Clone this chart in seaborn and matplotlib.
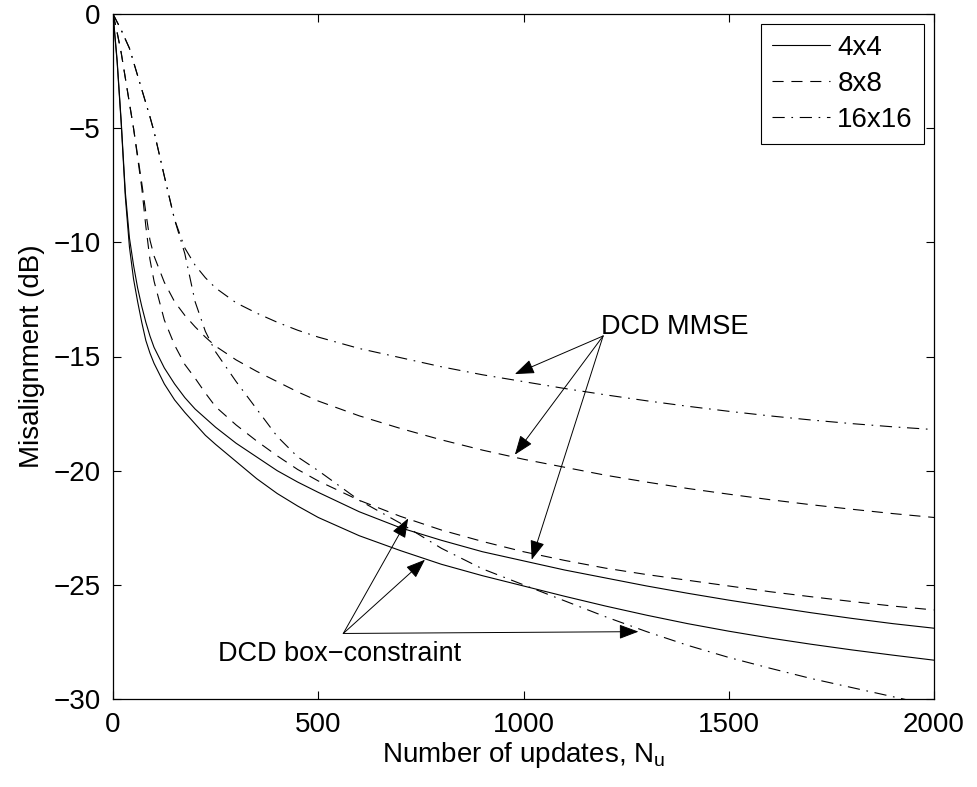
import matplotlib
matplotlib.use("Agg")
import matplotlib.pyplot as plt
import seaborn as sns
import pandas as pd

# ---------------- data ----------------
updates = [0, 10, 20, 30, 40, 50, 60, 70, 80, 90, 100, 125, 150, 175, 200, 225, 250,
           300, 350, 400, 450, 500, 600, 700, 800, 900, 1000, 1100, 1200, 1300, 1400,
           1500, 1600, 1700, 1800, 1900, 2000]

mmse_4x4 = [0, -2.0, -4.7, -7.8, -9.8, -11.0, -12.0, -12.8, -13.5, -14.1, -14.6, -15.5,
            -16.2, -16.8, -17.3, -17.7, -18.1, -18.8, -19.4, -20.0, -20.5, -20.95, -21.8,
            -22.5, -23.05, -23.55, -23.95, -24.35, -24.7, -25.05, -25.37, -25.67, -25.95,
            -26.22, -26.47, -26.7, -26.9]
box_4x4 = [0, -2.1, -4.8, -8.0, -10.2, -11.6, -12.6, -13.5, -14.3, -14.85, -15.3, -16.2,
           -16.9, -17.45, -17.95, -18.45, -18.85, -19.6, -20.35, -21.0, -21.55, -22.05,
           -22.85, -23.5, -24.1, -24.6, -25.05, -25.5, -25.93, -26.33, -26.7, -27.03,
           -27.33, -27.6, -27.85, -28.08, -28.3]
mmse_8x8 = [0, -0.8, -1.7, -2.8, -3.9, -5.0, -6.2, -7.4, -8.7, -9.9, -10.6, -11.75, -12.6,
            -13.2, -13.7, -14.15, -14.55, -15.15, -15.65, -16.1, -16.55, -16.95, -17.6,
            -18.15, -18.65, -19.1, -19.5, -19.85, -20.2, -20.5, -20.78, -21.03, -21.27,
            -21.49, -21.69, -21.88, -22.05]
box_8x8 = [0, -0.8, -1.7, -2.8, -3.9, -5.0, -6.3, -7.6, -9.3, -10.75, -11.7, -13.4, -14.5,
           -15.35, -15.95, -16.6, -17.2, -18.0, -18.7, -19.35, -19.95, -20.45, -21.3,
           -22.0, -22.6, -23.1, -23.55, -23.93, -24.27, -24.55, -24.8, -25.05, -25.3,
           -25.52, -25.73, -25.93, -26.1]
mmse_16x16 = [0, -0.35, -0.7, -1.1, -1.5, -2.1, -2.7, -3.3, -3.9, -4.5, -5.15, -7.1, -9.0,
              -10.25, -11.0, -11.55, -12.0, -12.65, -13.1, -13.5, -13.85, -14.15, -14.65,
              -15.05, -15.45, -15.8, -16.1, -16.4, -16.68, -16.94, -17.18, -17.4, -17.6,
              -17.78, -17.94, -18.08, -18.2]
box_16x16 = [0, -0.35, -0.7, -1.1, -1.5, -2.1, -2.7, -3.3, -3.9, -4.5, -5.15, -7.1, -9.0,
             -10.5, -12.6, -13.9, -14.8, -16.1, -17.3, -18.5, -19.4, -20.0, -21.3, -22.3,
             -23.4, -24.3, -25.0, -25.7, -26.4, -27.05, -27.65, -28.18, -28.65, -29.1,
             -29.5, -29.9, -30.3]

sizes = ["4x4", "8x8", "16x16"]
x_ticks = [0, 500, 1000, 1500, 2000]
y_ticks = [-30, -25, -20, -15, -10, -5, 0]

# ---------------- style ----------------
sns.set_style("ticks", rc={
    "axes.edgecolor": "k", "xtick.color": "k", "ytick.color": "k",
    "text.color": "k", "axes.labelcolor": "k",
    "xtick.direction": "in", "ytick.direction": "in",
})
plt.rcParams["font.family"] = ["Liberation Sans", "DejaVu Sans"]
plt.rcParams["mathtext.fontset"] = "custom"
plt.rcParams["mathtext.rm"] = "Liberation Sans"
plt.rcParams["mathtext.default"] = "regular"

FS = 20
LW = 0.8
styles = {
    "4x4": "-",
    "8x8": (0, (10, 7)),
    "16x16": (0, (11, 6, 1.5, 6)),
}

fig = plt.figure(figsize=(9.78, 7.87), dpi=100)
ax = fig.add_axes([113 / 978, 1 - 699 / 787, (934 - 113) / 978, (699 - 14) / 787])

series = [
    ("4x4", mmse_4x4, box_4x4),
    ("8x8", mmse_8x8, box_8x8),
    ("16x16", mmse_16x16, box_16x16),
]
for name, mm, bx in series:
    df = pd.DataFrame({"updates": updates, "mmse": mm, "box": bx})
    sns.lineplot(data=df, x="updates", y="mmse", ax=ax, color="k", lw=LW,
                 linestyle=styles[name], label=name)
    sns.lineplot(data=df, x="updates", y="box", ax=ax, color="k", lw=LW,
                 linestyle=styles[name], label="_nolegend_")

ax.set_xlim(0, 2000)
ax.set_ylim(-30, 0)
ax.set_xticks(x_ticks)
ax.set_yticks(y_ticks)
ax.tick_params(direction="in", top=True, right=True, length=6, width=0.8,
               labelsize=FS, pad=9)
for s in ax.spines.values():
    s.set_linewidth(0.9)
    s.set_color("k")

ax.set_xlabel("Number of updates, N$_\\mathregular{u}$", fontsize=FS, labelpad=2)
ax.set_ylabel("Misalignment (dB)", fontsize=FS, labelpad=6)

leg = ax.legend(loc="upper right", fontsize=FS, frameon=True, fancybox=False,
                edgecolor="k", framealpha=1, handlelength=2.1, handletextpad=0.25,
                labelspacing=0.36, borderaxespad=0.36, borderpad=0.4)
leg.get_frame().set_linewidth(0.8)

# ---------------- annotations ----------------
arrow = dict(arrowstyle="-|>,head_length=0.8,head_width=0.3", color="k", lw=0.7,
             shrinkA=0, shrinkB=0, mutation_scale=15)

ax.text(1190, -14.0, "DCD MMSE", fontsize=19.5, ha="left", va="baseline")
for tip in [(979, -15.77), (979, -19.3), (1020, -23.9)]:
    ax.annotate("", xy=tip, xytext=(1194, -14.1), arrowprops=arrow)

ax.text(256, -28.33, "DCD box\u2212constraint", fontsize=19.5, ha="left", va="baseline")
for tip in [(719, -22.09), (760, -23.9), (1280, -27.05)]:
    ax.annotate("", xy=tip, xytext=(561, -27.13), arrowprops=arrow)

fig.savefig("out.png", dpi=100, facecolor="white")
